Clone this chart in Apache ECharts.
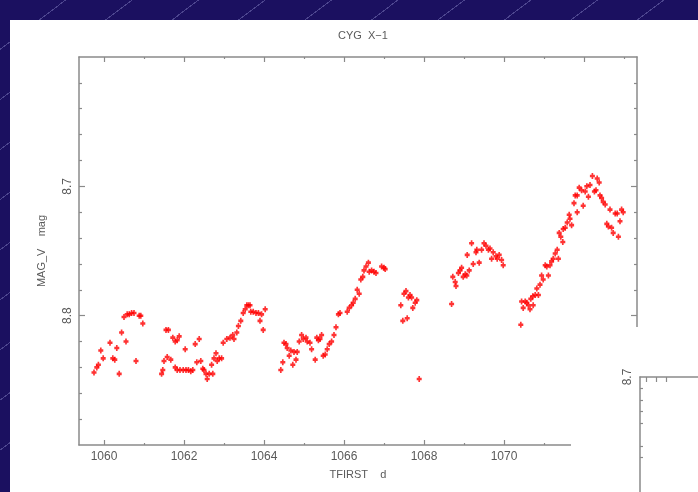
<!DOCTYPE html>
<html>
<head>
<meta charset="utf-8">
<script src="https://cdn.jsdelivr.net/npm/echarts@6/dist/echarts.min.js"></script>
<style>
  html, body { margin: 0; padding: 0; }
  body {
    width: 698px; height: 492px; overflow: hidden;
    background-color: #1b1060;
    background-image: repeating-linear-gradient(143deg,
      rgba(0,0,0,0) 0px, rgba(0,0,0,0) 39px,
      rgba(170,170,230,0.35) 39px, rgba(170,170,230,0.35) 40px);
  }
  #chart { width: 698px; height: 492px; }
</style>
</head>
<body>
<div id="chart"></div>
<script>
// Cyg X-1 V-band light curve: time of observation (d) and magnitude
const tfirst = [
  // night 1
  1059.75, 1059.82, 1059.86, 1059.92, 1059.98, 1060.15, 1060.22, 1060.27, 1060.32, 1060.38,
  1060.44, 1060.50, 1060.55, 1060.58, 1060.63, 1060.69, 1060.75, 1060.80, 1060.88, 1060.92, 1060.97,
  // night 2
  1061.44, 1061.47, 1061.50, 1061.55, 1061.61, 1061.58, 1061.67, 1061.72, 1061.78, 1061.83,
  1061.88, 1061.78, 1061.83, 1061.90, 1061.98, 1062.03, 1062.05, 1062.11, 1062.17, 1062.22,
  1062.28, 1062.32, 1062.38, 1062.42, 1062.47, 1062.50, 1062.55, 1062.58, 1062.63, 1062.69,
  1062.72, 1062.75, 1062.80, 1062.83, 1062.88, 1062.94, 1062.98,
  // night 3
  1063.07, 1063.15, 1063.22, 1063.25, 1063.32, 1063.36, 1063.42, 1063.48, 1063.53, 1063.57,
  1063.61, 1063.65, 1063.67, 1063.73, 1063.80, 1063.86, 1063.90, 1063.94, 1063.98, 1064.03,
  // nights 4-5
  1064.42, 1064.47, 1064.50, 1064.55, 1064.58, 1064.63, 1064.67, 1064.72, 1064.75, 1064.80,
  1064.83, 1064.88, 1064.94, 1064.98, 1065.05, 1065.08, 1065.15, 1065.19, 1065.28, 1065.32,
  1065.36, 1065.40, 1065.44, 1065.48, 1065.53, 1065.58, 1065.63, 1065.69, 1065.75, 1065.80,
  1065.86, 1065.90, 1066.08, 1066.13, 1066.19, 1066.23, 1066.28, 1066.33, 1066.38, 1066.42,
  1066.47, 1066.50, 1066.55, 1066.61, 1066.63, 1066.69, 1066.75, 1066.80, 1066.94, 1067.00, 1067.03,
  // night 6
  1067.42, 1067.47, 1067.50, 1067.55, 1067.58, 1067.61, 1067.65, 1067.69, 1067.72, 1067.78,
  1067.82, 1067.88,
  // night 7
  1068.69, 1068.72, 1068.78, 1068.80, 1068.86, 1068.90, 1068.94, 1068.98, 1069.03, 1069.07,
  1069.08, 1069.13, 1069.19, 1069.23, 1069.30, 1069.32, 1069.38, 1069.44, 1069.50, 1069.55,
  1069.61, 1069.65, 1069.69, 1069.73, 1069.80, 1069.83, 1069.88, 1069.94, 1069.98,
  // nights 8-9
  1070.42, 1070.44, 1070.48, 1070.53, 1070.57, 1070.61, 1070.65, 1070.67, 1070.72, 1070.73,
  1070.78, 1070.82, 1070.86, 1070.90, 1070.94, 1070.98, 1071.03, 1071.07, 1071.11, 1071.15,
  1071.19, 1071.23, 1071.28, 1071.33, 1071.36, 1071.38, 1071.42, 1071.47, 1071.48, 1071.53,
  1071.58, 1071.63, 1071.65, 1071.69, 1071.75, 1071.78, 1071.83, 1071.83, 1071.88, 1071.94,
  1071.98, 1072.03, 1072.07, 1072.11, 1072.15, 1072.21, 1072.26, 1072.30, 1072.33, 1072.38,
  1072.40, 1072.44, 1072.48, 1072.53, 1072.57, 1072.61, 1072.65, 1072.69, 1072.73, 1072.78,
  1072.83, 1072.86, 1072.90, 1072.94, 1072.98
];

const magV = [
  // night 1
  8.844, 8.840, 8.838, 8.827, 8.833, 8.821, 8.833, 8.834, 8.825, 8.845,
  8.813, 8.801, 8.820, 8.799, 8.799, 8.798, 8.798, 8.835, 8.800, 8.800, 8.806,
  // night 2
  8.845, 8.842, 8.835, 8.811, 8.811, 8.832, 8.834, 8.817, 8.820, 8.819,
  8.816, 8.840, 8.842, 8.842, 8.842, 8.826, 8.842, 8.842, 8.843, 8.842,
  8.822, 8.836, 8.818, 8.835, 8.841, 8.842, 8.845, 8.849, 8.845, 8.838,
  8.845, 8.833, 8.829, 8.835, 8.833, 8.833, 8.821,
  // night 3
  8.818, 8.817, 8.815, 8.818, 8.813, 8.808, 8.804, 8.798, 8.795, 8.792,
  8.792, 8.792, 8.797, 8.797, 8.798, 8.798, 8.804, 8.799, 8.811, 8.795,
  // nights 4-5
  8.842, 8.836, 8.821, 8.822, 8.825, 8.831, 8.827, 8.838, 8.828, 8.834,
  8.828, 8.820, 8.815, 8.818, 8.817, 8.820, 8.821, 8.826, 8.834, 8.817,
  8.819, 8.818, 8.815, 8.831, 8.830, 8.826, 8.822, 8.820, 8.815, 8.809,
  8.799, 8.798, 8.797, 8.794, 8.792, 8.790, 8.787, 8.780, 8.783, 8.772,
  8.770, 8.765, 8.762, 8.759, 8.766, 8.765, 8.766, 8.767, 8.762, 8.763, 8.764,
  // night 6
  8.792, 8.804, 8.783, 8.781, 8.802, 8.786, 8.784, 8.786, 8.794, 8.790,
  8.788, 8.849,
  // night 7
  8.791, 8.770, 8.774, 8.777, 8.767, 8.765, 8.763, 8.770, 8.768, 8.769,
  8.753, 8.765, 8.744, 8.760, 8.751, 8.749, 8.759, 8.749, 8.744, 8.746,
  8.749, 8.748, 8.756, 8.751, 8.754, 8.756, 8.753, 8.757, 8.761,
  // nights 8-9
  8.807, 8.789, 8.794, 8.789, 8.790, 8.792, 8.795, 8.787, 8.785, 8.792,
  8.784, 8.779, 8.784, 8.776, 8.769, 8.772, 8.761, 8.762, 8.769, 8.761,
  8.758, 8.756, 8.752, 8.749, 8.756, 8.736, 8.739, 8.743, 8.733, 8.732,
  8.728, 8.722, 8.725, 8.730, 8.713, 8.707, 8.707, 8.720, 8.701, 8.703,
  8.715, 8.704, 8.700, 8.708, 8.699, 8.692, 8.704, 8.703, 8.694, 8.697,
  8.707, 8.709, 8.712, 8.714, 8.729, 8.731, 8.718, 8.732, 8.736, 8.721,
  8.721, 8.739, 8.727, 8.718, 8.720
];

// Axis ranges and tick positions
const xRange = [1059.375, 1073.325];
const xMajorTicks = [1060, 1062, 1064, 1066, 1068, 1070, 1072];
const xMinorTicks = [1061, 1063, 1065, 1067, 1069, 1071, 1073];
const xTickLabels = [1060, 1062, 1064, 1066, 1068, 1070];
const yRange = [8.6, 8.9];
const yMajorTicks = [8.7, 8.8];
const yMinorTicks = [8.62, 8.64, 8.66, 8.68, 8.72, 8.74, 8.76, 8.78, 8.82, 8.84, 8.86, 8.88];
const yTickLabels = [8.7, 8.8];

// Second (partially visible) panel
const x2Range = [1059.4, 1066.9];
const x2Ticks = [1060, 1061, 1062];
const y2Range = [8.7, 8.9];
const y2Ticks = [8.72, 8.74, 8.76, 8.78, 8.82, 8.84];
const y2Labels = [8.7];

const AXIS = '#8a8a8a';
const TEXT = '#5a5a5a';
const FONT = '"Liberation Sans", Arial, sans-serif';

function ticks(len, values) {
  return { show: true, inside: true, length: len, customValues: values,
           lineStyle: { color: AXIS, width: 1.2 } };
}
const noLabel = { show: false };
const noSplit = { show: false };
const line = { show: true, lineStyle: { color: AXIS, width: 1.5 } };
const noLine = { show: false };

const chart = echarts.init(document.getElementById('chart'), null, { renderer: 'canvas' });

const option = {
  animation: false,
  backgroundColor: 'transparent',
  title: {
    text: 'CYG  X\u22121',
    left: 358, top: 25, textAlign: 'center',
    textStyle: { color: TEXT, fontSize: 11, fontWeight: 'normal', fontFamily: FONT }
  },
  graphic: [
    { type: 'rect', z: -10, shape: { x: 10, y: 20, width: 688, height: 472 }, style: { fill: '#ffffff' } },
    { type: 'rect', z: 5, shape: { x: 571, y: 327, width: 127, height: 165 }, style: { fill: '#ffffff' } }
  ],
  grid: [
    { left: 79, top: 57, width: 558, height: 388 },
    { left: 640, top: 377, width: 300, height: 260 }
  ],
  xAxis: [
    {
      gridIndex: 0, type: 'value', position: 'bottom', min: xRange[0], max: xRange[1],
      axisLine: line, axisTick: ticks(5, xMajorTicks), splitLine: noSplit,
      axisLabel: { customValues: xTickLabels, margin: 6, color: TEXT, fontSize: 12, fontFamily: FONT,
                   formatter: v => String(v) },
      name: 'TFIRST    d', nameLocation: 'middle', nameGap: 24,
      nameTextStyle: { color: TEXT, fontSize: 11, fontFamily: FONT }
    },
    {
      gridIndex: 0, type: 'value', position: 'bottom', min: xRange[0], max: xRange[1],
      axisLine: noLine, axisTick: ticks(2, xMinorTicks), axisLabel: noLabel, splitLine: noSplit
    },
    {
      gridIndex: 0, type: 'value', position: 'top', min: xRange[0], max: xRange[1],
      axisLine: line, axisTick: ticks(5, xMajorTicks), axisLabel: noLabel, splitLine: noSplit
    },
    {
      gridIndex: 0, type: 'value', position: 'top', min: xRange[0], max: xRange[1],
      axisLine: noLine, axisTick: ticks(2, xMinorTicks), axisLabel: noLabel, splitLine: noSplit
    },
    {
      gridIndex: 1, type: 'value', position: 'top', min: x2Range[0], max: x2Range[1], z: 10,
      axisLine: line, axisTick: ticks(5, x2Ticks), axisLabel: noLabel, splitLine: noSplit
    }
  ],
  yAxis: [
    {
      gridIndex: 0, type: 'value', position: 'left', inverse: true, min: yRange[0], max: yRange[1],
      axisLine: line, axisTick: ticks(6, yMajorTicks), splitLine: noSplit,
      axisLabel: { customValues: yTickLabels, rotate: 90, margin: 5, color: TEXT, fontSize: 12,
                   fontFamily: FONT, formatter: v => v.toFixed(1) },
      name: 'MAG_V    mag', nameLocation: 'middle', nameGap: 32, nameRotate: 90,
      nameTextStyle: { color: TEXT, fontSize: 11, fontFamily: FONT }
    },
    {
      gridIndex: 0, type: 'value', position: 'left', inverse: true, min: yRange[0], max: yRange[1],
      axisLine: noLine, axisTick: ticks(3, yMinorTicks), axisLabel: noLabel, splitLine: noSplit
    },
    {
      gridIndex: 0, type: 'value', position: 'right', inverse: true, min: yRange[0], max: yRange[1],
      axisLine: line, axisTick: ticks(6, yMajorTicks), axisLabel: noLabel, splitLine: noSplit
    },
    {
      gridIndex: 0, type: 'value', position: 'right', inverse: true, min: yRange[0], max: yRange[1],
      axisLine: noLine, axisTick: ticks(3, yMinorTicks), axisLabel: noLabel, splitLine: noSplit
    },
    {
      gridIndex: 1, type: 'value', position: 'left', inverse: true, min: y2Range[0], max: y2Range[1], z: 10,
      axisLine: line, axisTick: ticks(3, y2Ticks), splitLine: noSplit,
      axisLabel: { customValues: y2Labels, rotate: 90, margin: 6, color: TEXT, fontSize: 12,
                   fontFamily: FONT, formatter: v => v.toFixed(1) }
    }
  ],
  series: [
    {
      type: 'scatter',
      xAxisIndex: 0, yAxisIndex: 0,
      data: tfirst.map((t, i) => [t, magV[i]]),
      symbol: 'path://M2,0H4V2H6V5H4V7H2V5H0V2H2Z',
      symbolSize: [5, 6],
      itemStyle: { color: '#ff0000' },
      silent: true
    }
  ]
};

chart.setOption(option);
</script>
</body>
</html>
